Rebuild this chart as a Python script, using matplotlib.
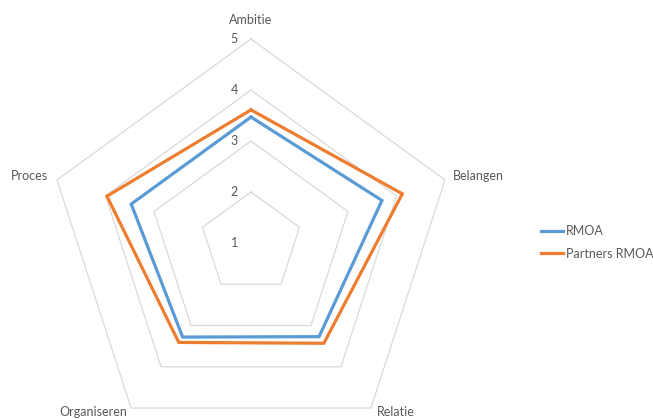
import numpy as np
import matplotlib
matplotlib.use("Agg")
import matplotlib.pyplot as plt

categories = ["Ambitie", "Belangen", "Relatie", "Organiseren", "Proces"]
rmoa = [3.47, 3.70, 3.27, 3.28, 3.47]
partners = [3.61, 4.12, 3.43, 3.41, 3.97]
series_names = ["RMOA", "Partners RMOA"]
levels = [1, 2, 3, 4, 5]

plt.rcParams['font.family'] = ['Lato', 'DejaVu Sans']
W, H = 653, 419
fig = plt.figure(figsize=(W / 100, H / 100), dpi=100)
cx, cy, R = 251, 243, 204
ax = fig.add_axes([(cx - R) / W, (H - cy - R) / H, 2 * R / W, 2 * R / H], projection='polar')
ax.set_theta_offset(np.pi / 2)
ax.set_theta_direction(-1)
ax.set_ylim(1, 5)
ax.grid(False)
ax.set_xticks([])
ax.set_yticks([])
ax.spines['polar'].set_visible(False)
ax.patch.set_visible(False)

n = len(categories)
theta = np.linspace(0, 2 * np.pi, n, endpoint=False)
tc = np.append(theta, theta[0])

grid_col = '#D9D9D9'
for lv in levels[1:]:
    ax.plot(tc, [lv] * (n + 1), color=grid_col, lw=0.9, clip_on=False, zorder=1)

cols = ['#5B9BD5', '#ED7D31']
for vals, name, c in zip([rmoa, partners], series_names, cols):
    ax.plot(tc, list(vals) + [vals[0]], color=c, lw=2.3, label=name, clip_on=False, zorder=3,
            solid_joinstyle='miter')

txt = '#595959'
for lv in levels:
    ax.annotate(str(lv), xy=(0, lv), xytext=(-13, 0), textcoords='offset pixels',
                ha='right', va='center', fontsize=9, color=txt, annotation_clip=False)

offs = {
    "Ambitie": ((0, 19), 'center', 'center'),
    "Belangen": ((8, 4), 'left', 'center'),
    "Relatie": ((6, -10), 'left', 'bottom'),
    "Organiseren": ((-4, -10), 'right', 'bottom'),
    "Proces": ((-9, 4), 'right', 'center'),
}
for t, cat in zip(theta, categories):
    (dx, dy), ha, va = offs[cat]
    ax.annotate(cat, xy=(t, 5), xytext=(dx, dy), textcoords='offset pixels',
                ha=ha, va=va, fontsize=9, color=txt, annotation_clip=False)

leg = fig.legend(loc='center left', bbox_to_anchor=(541 / W, 1 - 242.5 / H), frameon=False,
                 borderpad=0, borderaxespad=0, handlelength=1.75, handletextpad=0.25,
                 labelspacing=0.85, fontsize=9)
for t in leg.get_texts():
    t.set_color(txt)

fig.savefig('out.png', dpi=100)
